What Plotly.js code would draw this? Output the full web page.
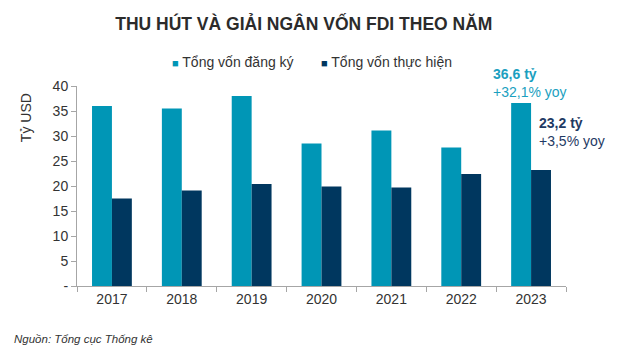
<!DOCTYPE html>
<html><head><meta charset="utf-8">
<script src="https://cdn.plot.ly/plotly-3.0.1.min.js"></script>
<style>html,body{margin:0;padding:0;background:#fff}#chart{width:629px;height:362px}</style>
</head><body><div id="chart"></div>
<script>
const years = ['2017','2018','2019','2020','2021','2022','2023'];
const registered = [36.0, 35.5, 38.0, 28.5, 31.1, 27.7, 36.6];
const disbursed = [17.5, 19.1, 20.4, 19.9, 19.7, 22.4, 23.2];
const yTickVals = [0,5,10,15,20,25,30,35,40];
const yTickText = ['-','5','10','15','20','25','30','35','40'];
const seriesNames = ['Tổng vốn đăng ký','Tổng vốn thực hiện'];

const cCyan = '#0096b6', cNavy = '#00375f';
const font = 'Arial, "Liberation Sans", sans-serif';

const traces = [
  {type:'bar', x:years, y:registered, name:seriesNames[0], marker:{color:cCyan}},
  {type:'bar', x:years, y:disbursed, name:seriesNames[1], marker:{color:cNavy}}
];
const last = years.length-1;
const sq = c => '<span style="color:'+c+';font-size:11px">■</span> ';
const layout = {
  width:629, height:362,
  margin:{l:77, r:63, t:86, b:76},
  paper_bgcolor:'#fff', plot_bgcolor:'#fff',
  showlegend:false,
  barmode:'group', bargap:0.43, bargroupgap:0,
  font:{family:font, size:14, color:'#333'},
  title:{text:'<b>THU HÚT VÀ GIẢI NGÂN VỐN FDI THEO NĂM</b>', x:0.483, xanchor:'center', y:0.935, yanchor:'middle',
    font:{family:'"Liberation Sans Narrow", "Arial Narrow", Arial, sans-serif', size:17.5, color:'#2b2b2b'}},
  xaxis:{type:'category', categoryorder:'array', categoryarray:years, range:[-0.5, years.length-0.5], autorange:false,
    showline:true, linecolor:'#a6a6a6', linewidth:1, ticks:'outside', tickson:'boundaries',
    ticklen:5, tickcolor:'#a6a6a6', showgrid:false, tickangle:0, tickfont:{size:14, color:'#333'}},
  yaxis:{range:[0,40], autorange:false, tickvals:yTickVals, ticktext:yTickText, showline:true, linecolor:'#a6a6a6', linewidth:1,
    ticks:'outside', ticklen:5, tickcolor:'#a6a6a6', showgrid:false, zeroline:false, tickfont:{size:14, color:'#333'}},
  annotations:[
    {xref:'paper', yref:'paper', x:-0.104, y:0.84, text:'Tỷ USD', textangle:-90, showarrow:false,
      xanchor:'center', yanchor:'middle', font:{size:14, color:'#333'}},
    {xref:'paper', yref:'paper', x:0.19, y:1.12, xanchor:'left', yanchor:'middle', showarrow:false,
      text:sq(cCyan)+seriesNames[0], font:{size:14, color:'#333'}},
    {xref:'paper', yref:'paper', x:0.495, y:1.12, xanchor:'left', yanchor:'middle', showarrow:false,
      text:sq(cNavy)+seriesNames[1], font:{size:14, color:'#333'}},
    {x:last, y:registered[last], xanchor:'center', yanchor:'bottom', xshift:-1, yshift:1, showarrow:false,
      align:'left', text:'<b>36,6 tỷ</b><br>+32,1% yoy', font:{size:14, color:'#1b9fc0'}},
    {x:last, y:disbursed[last], xanchor:'left', yanchor:'bottom', xshift:6, yshift:19, showarrow:false,
      align:'left', text:'<b>23,2 tỷ</b><br>+3,5% yoy', font:{size:14, color:'#1f3a64'}},
    {xref:'paper', yref:'paper', x:-0.133, y:-0.265, xanchor:'left', yanchor:'middle', showarrow:false,
      text:'<i>Nguồn: Tổng cục Thống kê</i>', font:{size:11.5, color:'#333'}}
  ]
};
Plotly.newPlot('chart', traces, layout, {displayModeBar:false, staticPlot:true});
</script></body></html>
